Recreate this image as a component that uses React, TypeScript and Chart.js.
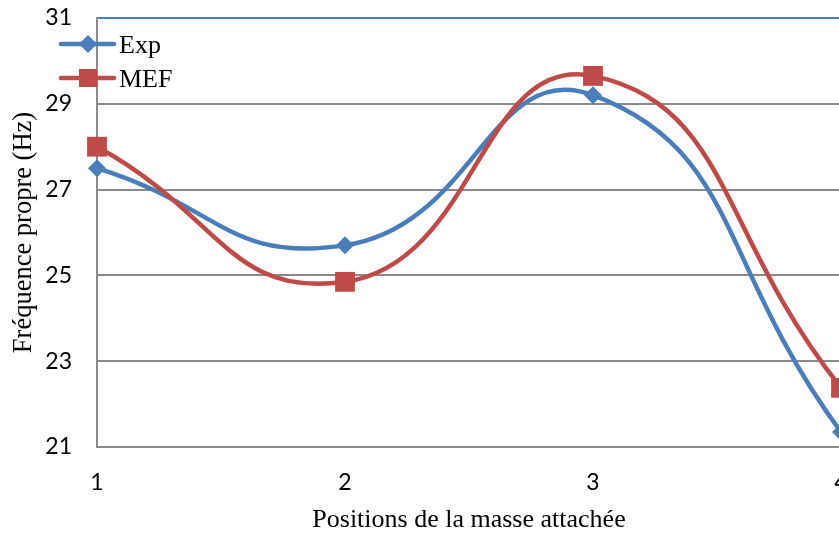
import React, { useEffect, useRef } from "react";
import { Chart, registerables } from "chart.js";

Chart.register(...registerables);

const positions = ["1", "2", "3", "4"];
const expValues = [27.5, 25.7, 29.2, 21.35];
const mefValues = [28.0, 24.85, 29.65, 22.38];
const seriesNames = ["Exp", "MEF"];

const BLUE = "#4A7EBB";
const RED = "#BE4B48";
const GRID = "#8a8a8a";

const legendPlugin = {
  id: "insideLegend",
  afterDraw(chart: any) {
    const ctx = chart.ctx;
    ctx.save();
    const rows = [
      { y: 44, color: BLUE, shape: "diamond", name: seriesNames[0] },
      { y: 78, color: RED, shape: "square", name: seriesNames[1] },
    ];
    for (const r of rows) {
      ctx.strokeStyle = r.color;
      ctx.lineWidth = 4.5;
      ctx.lineCap = "round";
      ctx.beginPath();
      ctx.moveTo(61, r.y);
      ctx.lineTo(114, r.y);
      ctx.stroke();
      ctx.fillStyle = r.color;
      ctx.beginPath();
      if (r.shape === "diamond") {
        ctx.moveTo(88, r.y - 9);
        ctx.lineTo(97, r.y);
        ctx.lineTo(88, r.y + 9);
        ctx.lineTo(79, r.y);
        ctx.closePath();
      } else {
        ctx.rect(79, r.y - 9, 18, 18);
      }
      ctx.fill();
      ctx.fillStyle = "#000";
      ctx.font = "26px 'Liberation Serif', 'Times New Roman', serif";
      ctx.textBaseline = "alphabetic";
      ctx.textAlign = "left";
      ctx.fillText(r.name, 119, r.y + 9);
    }
    ctx.restore();
  },
};

export default function App() {
  const canvasRef = useRef<HTMLCanvasElement | null>(null);

  useEffect(() => {
    const canvas = canvasRef.current;
    if (!canvas) return;
    const chart = new Chart(canvas, {
      type: "line",
      data: {
        labels: positions,
        datasets: [
          {
            label: seriesNames[0],
            data: expValues,
            borderColor: BLUE,
            backgroundColor: BLUE,
            borderWidth: 4.5,
            tension: 0.5,
            pointStyle: "rectRot",
            pointRadius: 9,
            pointBorderWidth: 0,
            pointBackgroundColor: BLUE,
            order: 2,
          },
          {
            label: seriesNames[1],
            data: mefValues,
            borderColor: RED,
            backgroundColor: RED,
            borderWidth: 4.5,
            tension: 0.5,
            pointStyle: "rect",
            pointRadius: 14,
            pointBorderWidth: 0,
            pointBackgroundColor: RED,
            order: 1,
          },
        ],
      },
      options: {
        responsive: false,
        animation: false,
        devicePixelRatio: 1,
        layout: { padding: { left: 0, top: 18, right: 19, bottom: 0 } },
        plugins: {
          legend: { display: false },
          tooltip: { enabled: false },
        },
        scales: {
          x: {
            type: "category",
            offset: false,
            grid: { display: false, drawTicks: false },
            border: { display: true, color: GRID, width: 2 },
            ticks: {
              padding: 22,
              color: "#000",
              font: { family: "Lato, 'Open Sans', sans-serif", size: 23 },
              maxRotation: 0,
            },
            title: {
              display: true,
              text: "Positions de la masse attachée",
              color: "#000",
              font: { family: "'Liberation Serif', 'Times New Roman', serif", size: 26, lineHeight: 1 },
              padding: 0,
            },
            afterFit(scale: any) {
              scale.height = 86;
              scale.paddingLeft = 0;
              scale.paddingRight = 0;
            },
          },
          y: {
            min: 21,
            max: 31,
            ticks: {
              stepSize: 2,
              padding: 25,
              color: "#000",
              font: { family: "Lato, 'Open Sans', sans-serif", size: 23 },
            },
            grid: {
              drawTicks: false,
              lineWidth: 2,
              color: (c: any) => (c.tick && c.tick.value === 31 ? BLUE : GRID),
            },
            border: { display: true, color: GRID, width: 2 },
            title: {
              display: true,
              text: "Fréquence propre (Hz)",
              color: "#000",
              font: { family: "'Liberation Serif', 'Times New Roman', serif", size: 26.5, lineHeight: 1 },
              padding: 11,
            },
            afterFit(scale: any) {
              scale.width = 97;
              scale.paddingTop = 0;
              scale.paddingBottom = 0;
            },
          },
        },
      },
      plugins: [legendPlugin],
    });
    return () => chart.destroy();
  }, []);

  return (
    <div
      style={{
        position: "fixed",
        left: 0,
        top: 0,
        width: 839,
        height: 533,
        overflow: "hidden",
        background: "#fff",
      }}
    >
      <canvas ref={canvasRef} width={860} height={533} style={{ width: 860, height: 533, display: "block" }} />
    </div>
  );
}
